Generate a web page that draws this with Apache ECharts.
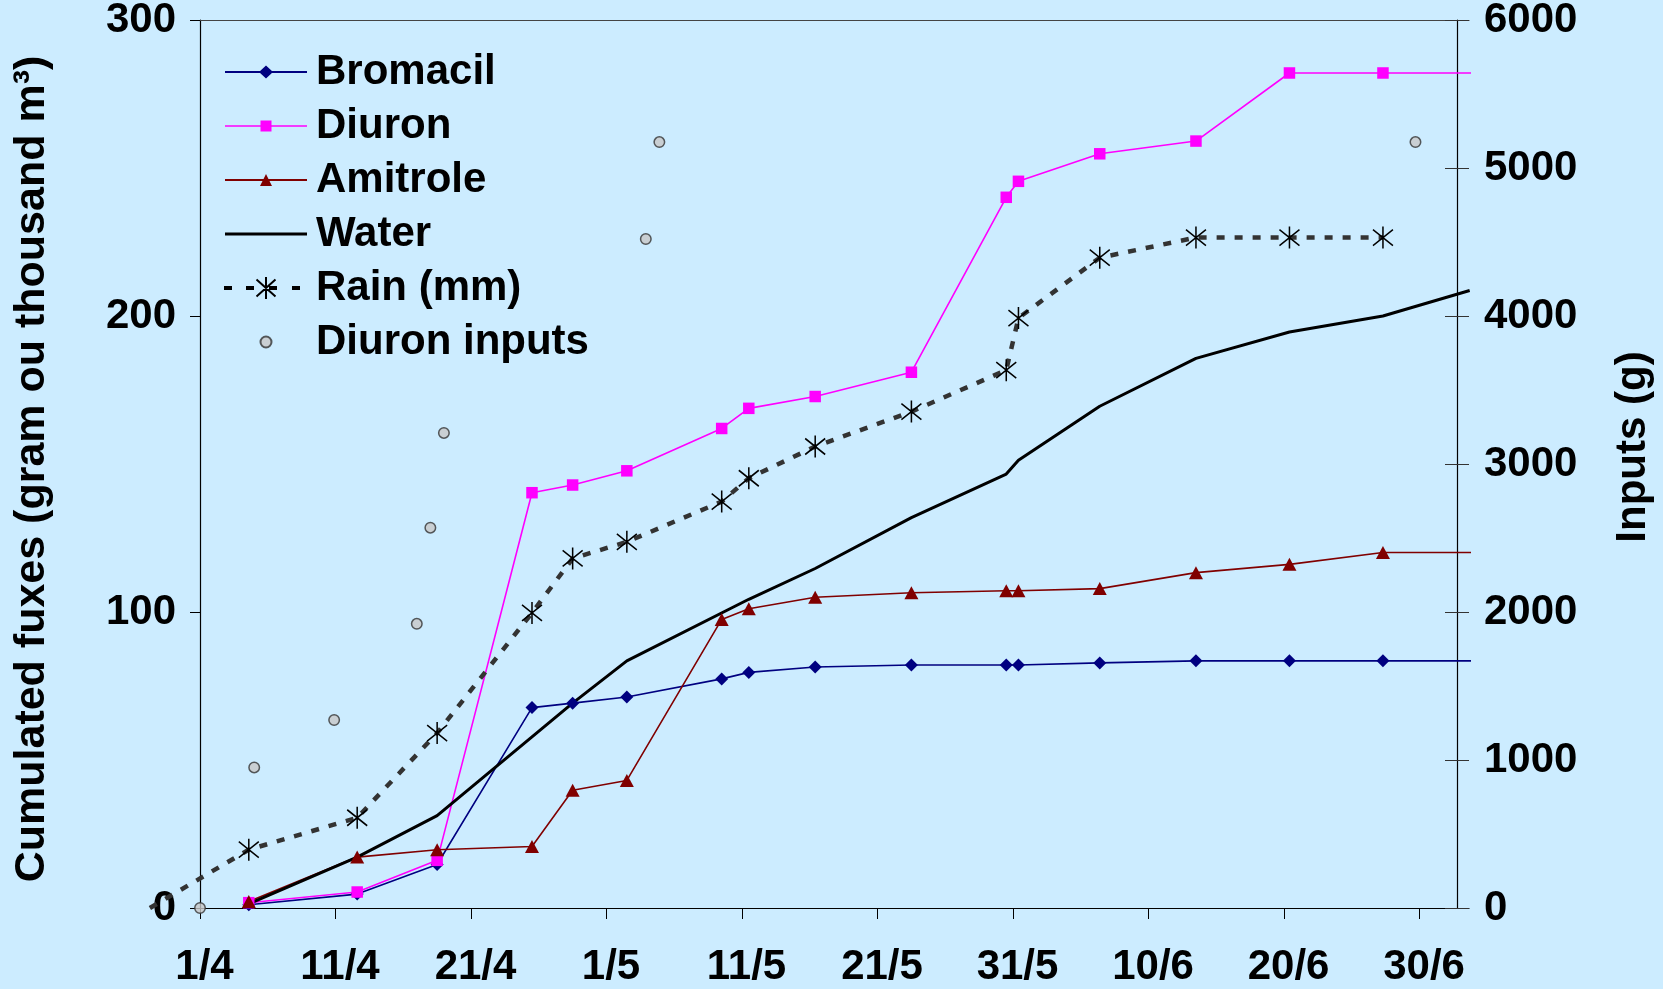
<!DOCTYPE html>
<html><head><meta charset="utf-8">
<script src="https://cdn.jsdelivr.net/npm/echarts@6/dist/echarts.min.js"></script>
<style>html,body{margin:0;padding:0;background:#ccecff}#c{width:1663px;height:989px}</style>
</head><body><div id="c"></div><script>
// x values are days since 1 April
const tickDays = [0, 10, 20, 30, 40, 50, 60, 70, 80, 90];
const tickLabels = ['1/4', '11/4', '21/4', '1/5', '11/5', '21/5', '31/5', '10/6', '20/6', '30/6'];
const leftTicks = ['0', '100', '200', '300'];
const rightTicks = ['0', '1000', '2000', '3000', '4000', '5000', '6000'];

const sampleDays = [3.6, 11.6, 17.5, 24.5, 27.5, 31.5, 38.5, 40.5, 45.4, 52.5, 59.5, 60.4, 66.4, 73.5, 80.4, 87.3, 100];
const bromacil = [1.1, 4.7, 14.7, 67.7, 69.2, 71.3, 77.4, 79.6, 81.4, 82.1, 82.1, 82.1, 82.8, 83.5, 83.5, 83.5, 83.5];
const diuron = [1.8, 5.4, 16.1, 140.3, 142.9, 147.7, 162.0, 168.8, 172.8, 181.0, 240.1, 245.5, 254.8, 259.1, 282.1, 282.1, 282.1];
const amitrole = [2.2, 17.2, 19.7, 20.8, 39.8, 43.1, 97.5, 101.1, 105.0, 106.5, 107.2, 107.2, 107.9, 113.3, 116.1, 120.1, 120.1];

const waterDays = [3.6, 11.6, 17.5, 27.5, 31.5, 40.5, 45.4, 52.5, 59.5, 60.4, 66.4, 73.5, 80.4, 87.3, 93.7];
const water = [1.4, 17.2, 31.2, 69.2, 83.5, 104.3, 114.7, 131.9, 146.6, 151.3, 169.5, 185.7, 194.6, 200.0, 208.6];

const rainDays = [-3.7, 3.6, 11.6, 17.5, 24.5, 27.5, 31.5, 38.5, 40.5, 45.4, 52.5, 59.5, 60.4, 66.4, 73.5, 80.4, 87.3];
const rain = [0, 19.7, 30.5, 59.1, 99.7, 118.1, 123.7, 137.3, 145.2, 155.9, 167.7, 181.7, 199.3, 219.7, 226.5, 226.5, 226.5];

const inputDays = [0, 4.0, 9.9, 16.0, 17.0, 18.0, 32.9, 33.9, 89.7];
const diuronInputs = [0, 950, 1270, 1920, 2570, 3210, 4520, 5175, 5175];

const zip = (xs, ys) => xs.map((x, i) => [x, ys[i]]);
const FONT = '"Liberation Sans", Arial, sans-serif';
const txt = { fontFamily: FONT, fontWeight: 'bold', color: '#000', fontSize: 42 };
const XMAX = 93.65;
const XMIN_RAIN = -4.06; // extended range for the rain grid (same pixel scale)
const asterisk = 'path://M10 0 L10 22 M1 3 L19 19 M19 3 L1 19';

// legend icons: 82 x 23 boxes (anchored by the two moveTo points)
const A = 'M0 0 M82 23 ';
const icons = {
  bromacil: 'path://' + A + 'M0 10.5 L82 10.5 L82 12.5 L0 12.5 Z M34 11.5 L41 5 L48 11.5 L41 18 Z',
  diuron: 'path://' + A + 'M0 10.7 L82 10.7 L82 12.3 L0 12.3 Z M35.5 6 L46.5 6 L46.5 17 L35.5 17 Z',
  amitrole: 'path://' + A + 'M0 10.5 L82 10.5 L82 12.5 L0 12.5 Z M35 17.5 L41 5.5 L47 17.5 Z',
  water: 'path://' + A + 'M0 10 L82 10 L82 13 L0 13 Z',
  rain: 'path://' + A + 'M0 10.5 L6 10.5 L6 12.5 L0 12.5 Z M22 10.5 L28 10.5 L28 12.5 L22 12.5 Z M45 10.5 L51 10.5 L51 12.5 L45 12.5 Z M68 10.5 L74 10.5 L74 12.5 L68 12.5 Z M41 0.5 L41 22.5 M31.5 3 L50.5 20 M50.5 3 L31.5 20',
  inputs: 'path://' + A + 'M46.5 11.5 A5.5 5.5 0 1 1 35.5 11.5 A5.5 5.5 0 1 1 46.5 11.5 Z'
};

const G = { top: 20, bottom: 81, right: 194, containLabel: false, outerBoundsMode: 'none' };
const hiddenAxis = (extra) => Object.assign({ type: 'value', show: false,
  axisLine: { show: false, onZero: false }, axisTick: { show: false },
  axisLabel: { show: false }, splitLine: { show: false } }, extra);

const chart = echarts.init(document.getElementById('c'), null, { renderer: 'canvas' });
chart.setOption({
  backgroundColor: '#ccecff',
  animation: false,
  grid: [
    Object.assign({ left: 200 }, G),
    Object.assign({ left: 200 }, G),
    Object.assign({ left: 145 }, G)
  ],
  legend: {
    orient: 'vertical', left: 224, top: 50, padding: 0,
    itemWidth: 82, itemHeight: 23, itemGap: 10, symbolKeepAspect: false,
    textStyle: Object.assign({}, txt, { lineHeight: 44, padding: [0, 0, 0, 4] }),
    data: [
      { name: 'Bromacil', icon: icons.bromacil },
      { name: 'Diuron', icon: icons.diuron },
      { name: 'Amitrole', icon: icons.amitrole },
      { name: 'Water', icon: icons.water },
      { name: 'Rain (mm)', icon: icons.rain },
      { name: 'Diuron inputs', icon: icons.inputs }
    ]
  },
  xAxis: [{
    type: 'value', min: 0, max: XMAX,
    axisLine: { show: true, onZero: false, lineStyle: { color: '#000', width: 1.2 } },
    axisTick: { show: true, length: 11, customValues: tickDays, lineStyle: { color: '#000' } },
    axisLabel: Object.assign({}, txt, { margin: 38, padding: [0, 0, 0, 9], customValues: tickDays,
      formatter: v => { const i = tickDays.indexOf(v); return i >= 0 ? tickLabels[i] : ''; } }),
    splitLine: { show: false }
  }, {
    type: 'value', position: 'top', min: 0, max: XMAX,
    axisLine: { show: true, onZero: false, lineStyle: { color: '#444', width: 1.2 } },
    axisTick: { show: false }, axisLabel: { show: false }, splitLine: { show: false }
  },
    hiddenAxis({ gridIndex: 1, min: 0, max: XMAX }),
    hiddenAxis({ gridIndex: 2, min: XMIN_RAIN, max: XMAX })
  ],
  yAxis: [{
    type: 'value', position: 'left', min: 0, max: 300, interval: 100,
    name: 'Cumulated fuxes (gram ou thousand m³)', nameLocation: 'middle', nameGap: 146, nameRotate: 90,
    nameTextStyle: Object.assign({}, txt, { fontSize: 43, padding: [0, 10, 0, 0] }),
    axisLine: { show: true, onZero: false, lineStyle: { color: '#000', width: 1.2 } },
    axisTick: { show: true, length: 10, lineStyle: { color: '#000' } },
    axisLabel: Object.assign({}, txt, { margin: 24, padding: [6, 0, 0, 0], formatter: v => leftTicks[v / 100] }),
    splitLine: { show: false }
  }, {
    type: 'value', position: 'right', offset: -12, min: 0, max: 6000, interval: 1000,
    name: 'Inputs (g)', nameLocation: 'middle', nameGap: 155, nameRotate: 90,
    nameTextStyle: Object.assign({}, txt, { padding: [0, 0, 0, 34] }),
    axisLine: { show: true, onZero: false, lineStyle: { color: '#000', width: 1.2 } },
    axisTick: { show: true, inside: true, length: 12, lineStyle: { color: '#333' } },
    axisLabel: Object.assign({}, txt, { margin: 27, padding: [6, 0, 0, 0], formatter: v => rightTicks[v / 1000] }),
    splitLine: { show: false }
  }, {
    type: 'value', gridIndex: 1, position: 'right', offset: -12, min: 0, max: 6000, interval: 1000,
    axisLine: { show: false, onZero: false },
    axisTick: { show: true, length: 12, lineStyle: { color: '#333' } },
    axisLabel: { show: false }, splitLine: { show: false }
  },
    hiddenAxis({ gridIndex: 2, min: 0, max: 300 })
  ],
  series: [
    { name: 'Bromacil', type: 'line', data: zip(sampleDays, bromacil),
      symbol: 'diamond', symbolSize: 13, lineStyle: { color: '#000080', width: 1.6 },
      itemStyle: { color: '#000080' } },
    { name: 'Diuron', type: 'line', data: zip(sampleDays, diuron),
      symbol: 'rect', symbolSize: 11.5, lineStyle: { color: '#ff00ff', width: 1.6 },
      itemStyle: { color: '#ff00ff' } },
    { name: 'Amitrole', type: 'line', data: zip(sampleDays, amitrole),
      symbol: 'triangle', symbolSize: [14, 13], lineStyle: { color: '#800000', width: 1.6 },
      itemStyle: { color: '#800000' } },
    { name: 'Water', type: 'line', data: zip(waterDays, water),
      symbol: 'none', showSymbol: false, lineStyle: { color: '#000', width: 3 },
      itemStyle: { color: '#000' } },
    { name: 'Rain (mm)', type: 'line', xAxisIndex: 3, yAxisIndex: 3,
      data: zip(rainDays, rain).map(p => p[0] < 0 ? { value: p, symbol: 'none' } : p),
      symbol: asterisk, symbolSize: [20, 22],
      lineStyle: { color: '#333', width: 4.5, type: [8, 10] },
      itemStyle: { color: '#000', borderColor: '#000', borderWidth: 1.6 } },
    { name: 'Diuron inputs', type: 'scatter', yAxisIndex: 1, clip: false,
      data: zip(inputDays, diuronInputs), symbol: 'circle', symbolSize: 10.5,
      itemStyle: { color: '#c8c8c8', borderColor: '#333', borderWidth: 1.5 } }
  ]
});
</script></body></html>
